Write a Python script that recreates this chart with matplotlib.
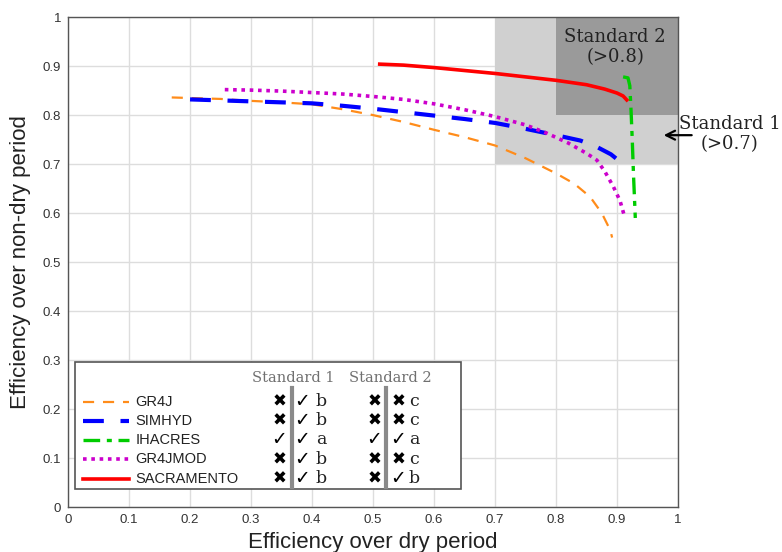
import matplotlib
matplotlib.use('Agg')
import matplotlib.pyplot as plt
from matplotlib.patches import Rectangle

# Curves
gr4j_x = [0.17, 0.25, 0.3, 0.35, 0.4, 0.45, 0.5, 0.55, 0.6, 0.65, 0.7, 0.75, 0.8, 0.83, 0.856, 0.875, 0.889, 0.892]
gr4j_y = [0.836, 0.833, 0.829, 0.826, 0.822, 0.812, 0.800, 0.786, 0.770, 0.755, 0.738, 0.712, 0.681, 0.660, 0.633, 0.600, 0.565, 0.550]

simhyd_x = [0.2, 0.25, 0.3, 0.35, 0.4, 0.45, 0.5, 0.55, 0.6, 0.65, 0.7, 0.75, 0.8, 0.84, 0.867, 0.89, 0.905, 0.91]
simhyd_y = [0.832, 0.830, 0.828, 0.826, 0.824, 0.819, 0.813, 0.806, 0.799, 0.792, 0.784, 0.772, 0.759, 0.748, 0.735, 0.720, 0.705, 0.698]

ihacres_x = [0.910, 0.918, 0.921, 0.923, 0.925, 0.927, 0.929, 0.930]
ihacres_y = [0.878, 0.876, 0.860, 0.810, 0.750, 0.680, 0.620, 0.590]

gr4jmod_x = [0.257, 0.3, 0.35, 0.4, 0.45, 0.5, 0.55, 0.6, 0.65, 0.7, 0.75, 0.785, 0.82, 0.85, 0.867, 0.88, 0.894, 0.905, 0.913]
gr4jmod_y = [0.852, 0.851, 0.849, 0.846, 0.843, 0.838, 0.832, 0.823, 0.811, 0.797, 0.780, 0.763, 0.743, 0.722, 0.708, 0.685, 0.654, 0.625, 0.590]

sacr_x = [0.511, 0.55, 0.6, 0.65, 0.7, 0.75, 0.8, 0.85, 0.88, 0.9, 0.91, 0.916]
sacr_y = [0.904, 0.902, 0.897, 0.891, 0.885, 0.878, 0.871, 0.862, 0.853, 0.845, 0.839, 0.831]

models = ['GR4J', 'SIMHYD', 'IHACRES', 'GR4JMOD', 'SACRAMENTO']
std1_marks = [('✖', '✓', 'b'), ('✖', '✓', 'b'), ('✓', '✓', 'a'), ('✖', '✓', 'b'), ('✖', '✓', 'b')]
std2_marks = [('✖', '✖', 'c'), ('✖', '✖', 'c'), ('✓', '✓', 'a'), ('✖', '✖', 'c'), ('✖', '✓', 'b')]

styles = {
    'GR4J': dict(color='#ff8c1a', lw=1.6, dashes=(5, 4)),
    'SIMHYD': dict(color='#0000ff', lw=3.0, dashes=(5, 4)),
    'IHACRES': dict(color='#00cc00', lw=2.4, dashes=(5, 2, 1.5, 2)),
    'GR4JMOD': dict(color='#cc00cc', lw=2.6, dashes=(1, 1.3)),
    'SACRAMENTO': dict(color='#ff0000', lw=2.6, dashes=None),
}
curves = {
    'GR4J': (gr4j_x, gr4j_y),
    'SIMHYD': (simhyd_x, simhyd_y),
    'IHACRES': (ihacres_x, ihacres_y),
    'GR4JMOD': (gr4jmod_x, gr4jmod_y),
    'SACRAMENTO': (sacr_x, sacr_y),
}

sans = 'Liberation Sans'
serif = 'DejaVu Serif'

fig = plt.figure(figsize=(7.82, 5.52), dpi=100)
ax = fig.add_axes([0.087, 0.0815, 0.780, 0.8875])

# shaded standard zones (drawn over the grid)
ax.add_patch(Rectangle((0.7, 0.7), 0.3, 0.3, color='#d0d0d0', lw=0, zorder=1))
ax.add_patch(Rectangle((0.8, 0.8), 0.2, 0.2, color='#9a9a9a', lw=0, zorder=1.1))

for name in models:
    st = styles[name]
    x, y = curves[name]
    line, = ax.plot(x, y, color=st['color'], lw=st['lw'], zorder=3)
    if st['dashes']:
        line.set_dashes(st['dashes'])

ax.set_xlim(0, 1)
ax.set_ylim(0, 1)
ax.set_xticks([i / 10 for i in range(11)])
ax.set_yticks([i / 10 for i in range(11)])
ax.set_xticklabels(['0'] + [f'{i/10:g}' for i in range(1, 10)] + ['1'], fontfamily=sans, fontsize=9.5, color='#333333')
ax.set_yticklabels(['0'] + [f'{i/10:g}' for i in range(1, 10)] + ['1'], fontfamily=sans, fontsize=9.5, color='#333333')
ax.grid(True, color='#dddddd', lw=1.0)
ax.set_axisbelow(True)
ax.tick_params(length=0, pad=5)
for s in ax.spines.values():
    s.set_color('#555555')
    s.set_linewidth(1.0)

ax.set_xlabel('Efficiency over dry period', fontfamily=sans, fontsize=16, color='#222222', labelpad=4)
ax.set_ylabel('Efficiency over non-dry period', fontfamily=sans, fontsize=16, color='#222222', labelpad=8)

# zone annotations
ax.text(0.897, 0.938, 'Standard 2\n(>0.8)', ha='center', va='center', fontfamily=serif,
        fontsize=13, color='#222222', linespacing=1.15, zorder=4)
ax.text(1.085, 0.761, 'Standard 1\n(>0.7)', ha='center', va='center', fontfamily=serif,
        fontsize=13, color='#222222', linespacing=1.15, clip_on=False)
ax.annotate('', xy=(0.972, 0.759), xytext=(1.027, 0.759),
            arrowprops=dict(arrowstyle='->', color='black', lw=1.6, mutation_scale=16),
            annotation_clip=False)

# custom legend box with standard table
ax.add_patch(Rectangle((0.0115, 0.037), 0.632, 0.259, facecolor='white', edgecolor='#555555',
                       lw=1.2, zorder=5))
ax.text(0.369, 0.263, 'Standard 1', ha='center', va='center', fontfamily=serif, fontsize=10.5,
        color='#707070', zorder=6)
ax.text(0.528, 0.263, 'Standard 2', ha='center', va='center', fontfamily=serif, fontsize=10.5,
        color='#707070', zorder=6)
ax.plot([0.367, 0.367], [0.041, 0.243], color='#8a8a8a', lw=3, zorder=6)
ax.plot([0.522, 0.522], [0.041, 0.243], color='#8a8a8a', lw=3, zorder=6)


def mark(xx, yy, m):
    if m == '✓':
        ax.text(xx, yy, m, ha='center', va='center', fontfamily='DejaVu Sans', fontweight='bold',
                fontsize=13.5, color='black', zorder=6)
    else:
        ax.text(xx, yy, m, ha='center', va='center', fontfamily='DejaVu Sans',
                fontsize=12, color='black', zorder=6)


row_y = [0.215, 0.176, 0.137, 0.097, 0.058]
for name, yy, m1, m2 in zip(models, row_y, std1_marks, std2_marks):
    st = styles[name]
    line, = ax.plot([0.025, 0.10], [yy, yy], color=st['color'], lw=st['lw'], zorder=6)
    if st['dashes']:
        line.set_dashes(st['dashes'])
    ax.text(0.11, yy, name, ha='left', va='center', fontfamily=sans, fontsize=10.5,
            color='#222222', zorder=6)
    for (x0, x1, x2), marks in (((0.346, 0.384, 0.415), m1), ((0.502, 0.541, 0.568), m2)):
        mark(x0, yy, marks[0])
        mark(x1, yy, marks[1])
        ax.text(x2, yy, marks[2], ha='center', va='center', fontfamily=serif, fontsize=12.5,
                color='#222222', zorder=6)

fig.savefig('out.png', dpi=100)
